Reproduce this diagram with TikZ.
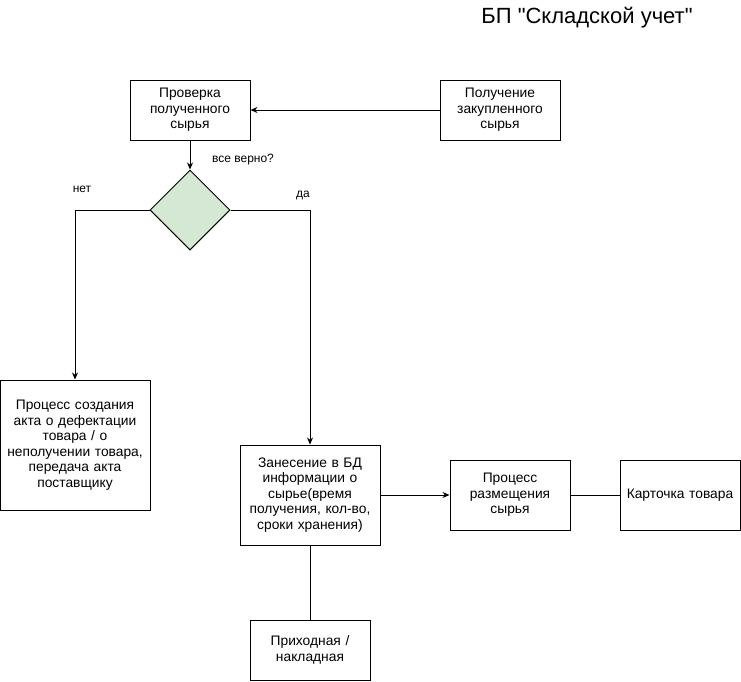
\documentclass[tikz,border=0pt]{standalone}
\usepackage{fontspec}
\setmainfont{Liberation Sans}
\newfontfamily\titlefont{Liberation Sans}
\usetikzlibrary{arrows.meta,shapes.geometric}

\begin{document}
\begin{tikzpicture}[x=1pt, y=-1pt,
    box/.style={draw, line width=1pt, align=center, inner sep=0pt,
      font=\fontsize{13.8}{15.5}\selectfont},
    decision/.style={draw, line width=1pt, diamond, aspect=1, inner sep=0pt,
      minimum width=80pt, minimum height=80pt, fill=decgreen},
    lbl/.style={font=\fontsize{12}{14}\selectfont},
    link/.style={line width=1pt},
    arr/.style={line width=1pt, -{Stealth[length=7pt, width=6pt]}}]
    \definecolor{decgreen}{HTML}{D5E8D4}
    \useasboundingbox (0,0) rectangle (741,681);

    \path (587, 18) node [font=\titlefont\fontsize{22}{26}\selectfont] (title) {БП "Складской учет"};

    \path (190,110) node [box, minimum width=120pt, minimum height=60pt, text width=116pt] (check) {Проверка\\полученного\\сырья};
    \path (500,110) node [box, minimum width=120pt, minimum height=60pt, text width=116pt] (receive) {Получение\\закупленного\\сырья};
    \draw [arr] (receive) -- (check);

    \path (190,210) node [decision] (ok) {};
    \draw [arr] (check) -- (ok);
    \path (243,160) node [lbl] (okq) {все верно?};

    \path ( 75,445) node [box, minimum width=150pt, minimum height=130pt, text width=146pt] (defect) {Процесс создания\\акта о дефектации\\товара / о\\неполучении товара,\\передача акта\\поставщику};
    \draw [arr] (ok.west) -| (defect.north);
    \path ( 82,189) node [lbl] (no) {нет};

    \path (310,495) node [box, minimum width=140pt, minimum height=100pt, text width=136pt] (db) {Занесение в БД\\информации о\\сырье(время\\получения, кол-во,\\сроки хранения)};
    \draw [arr] (ok.east) -| (db.north);
    \path (303,195) node [lbl] (yes) {да};

    \path (510,495) node [box, minimum width=120pt, minimum height=70pt, text width=116pt] (place) {Процесс\\размещения\\сырья};
    \draw [arr] (db) -- (place);

    \path (680,495) node [box, minimum width=120pt, minimum height=70pt, text width=118pt] (card) {Карточка товара};
    \draw [link] (place) -- (card);

    \path (310,650) node [box, minimum width=120pt, minimum height=60pt, text width=116pt] (invoice) {Приходная /\\накладная};
    \draw [link] (db) -- (invoice);
\end{tikzpicture}
\end{document}
